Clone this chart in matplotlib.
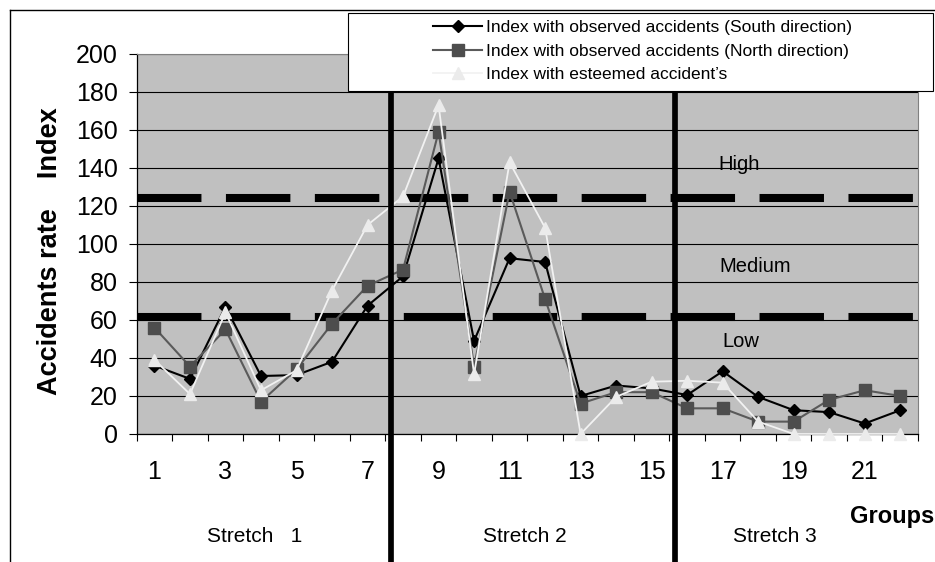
import numpy as np
import matplotlib.pyplot as plt
from matplotlib.lines import Line2D
from matplotlib.patches import Rectangle

plt.rcParams['font.family'] = ['Liberation Sans', 'DejaVu Sans']

# accident index per road group
groups = list(range(1, 23))
south = [36, 29, 67, 30.5, 31, 38, 67.5, 83, 145, 49, 92.5, 90.5,
         20, 25.5, 24, 20.5, 33, 19.5, 12.5, 11.5, 5.5, 12.5]
north = [56, 35.5, 55, 17, 34, 58, 78, 86.5, 159, 35.5, 127.5, 71,
         16, 22, 22, 13.5, 13.5, 6.5, 6.5, 18, 23, 20]
esteemed = [39, 21, 64, 23, 33.5, 75.5, 110, 125, 173, 31.5, 143, 108.5,
            0, 19.5, 27.5, 28, 27, 6.5, 0, 0, 0, 0]

series_labels = ["Index with observed accidents (South direction)",
                 "Index with observed accidents (North direction)",
                 "Index with esteemed accident\u2019s"]

# risk thresholds and stretch boundaries
thresholds = [124, 61.5]
stretch_bounds = [7.65, 15.65]
stretch_names = ["Stretch   1", "Stretch 2", "Stretch 3"]
stretch_centers = [3.83, 11.44, 18.48]
level_names = ["High", "Medium", "Low"]
level_pos = [(17.45, 142), (17.92, 88), (17.5, 48.5)]

fig = plt.figure(figsize=(9.35, 5.62), dpi=100)
ax = fig.add_axes([0.1462, 0.2278, 0.8356, 0.6762])
ax.set_facecolor('#C0C0C0')

ax.set_xlim(0.5, 22.5)
ax.set_ylim(0, 200)

# y axis
ax.set_yticks(np.arange(0, 201, 20))
ax.tick_params(axis='y', direction='out', length=5.8, width=0.8, pad=8,
               labelsize=18)
ax.yaxis.grid(True, color='black', lw=0.8)
ax.set_axisbelow(True)

# x axis: ticks on category borders, labels on odd groups
ax.set_xticks(np.arange(0.5, 23, 1))
ax.set_xticklabels([])
ax.tick_params(axis='x', which='major', direction='out', length=5, width=0.8)
ax.set_xticks(groups[::2], minor=True)
ax.set_xticklabels([str(g) for g in groups[::2]], minor=True)
ax.tick_params(axis='x', which='minor', length=0, pad=18.5, labelsize=18)

for s in ['top', 'right']:
    ax.spines[s].set_color('#808080')
for s in ['left', 'bottom']:
    ax.spines[s].set_color('black')
    ax.spines[s].set_linewidth(0.9)

# threshold dashes
for th in thresholds:
    ax.axhline(th, color='black', lw=5.8, dashes=(8.0, 3.04),
               solid_capstyle='butt', dash_capstyle='butt', zorder=1.5)

ax.plot(groups, south, color='black', lw=1.5, marker='D', ms=6,
        mfc='black', mec='black', zorder=3, clip_on=False,
        label=series_labels[0])
ax.plot(groups, north, color='#5A5A5A', lw=1.5, marker='s', ms=8.5,
        mfc='#4D4D4D', mec='#4D4D4D', zorder=3, clip_on=False,
        label=series_labels[1])
ax.plot(groups, esteemed, color='#F2F2F2', lw=1.3, marker='^', ms=8.5,
        mfc='#EBEBEB', mec='#EBEBEB', zorder=3, clip_on=False,
        label=series_labels[2])

# stretch separators reaching down through the labels
trans = ax.get_xaxis_transform()
for xb in stretch_bounds:
    ax.plot([xb, xb], [1.0, -0.45], color='black', lw=4.1,
            transform=trans, clip_on=False, zorder=4,
            solid_capstyle='butt')

for name, (lx, ly) in zip(level_names, level_pos):
    ax.text(lx, ly, name, fontsize=14.5, ha='center', va='center')

for name, cx in zip(stretch_names, stretch_centers):
    ax.text(cx, -0.27, name, transform=trans, fontsize=15,
            ha='center', va='center')

fig.text(934 / 935, 1 - 516 / 562, "Groups", fontsize=17,
         fontweight='bold', ha='right', va='center')

fig.text(50 / 935, 1 - 251 / 562, "Accidents rate    Index", rotation=90,
         fontsize=19.5, fontweight='bold', ha='center', va='center')

# outer chart frame (left and top)
fig.add_artist(Line2D([10 / 935, 10 / 935], [1 - 10 / 562, 0],
                      color='black', lw=1))
fig.add_artist(Line2D([10 / 935, 1], [1 - 10 / 562, 1 - 10 / 562],
                      color='black', lw=1))

# legend box
fig.add_artist(Rectangle((348 / 935, 1 - 90.5 / 562), (933 - 348) / 935,
                         77.5 / 562, facecolor='white', edgecolor='black',
                         lw=0.8, zorder=5))
handles, labels = ax.get_legend_handles_labels()
leg = fig.legend(handles, labels, loc='upper left',
                 bbox_to_anchor=(433 / 935, 1 - 20 / 562),
                 frameon=False, fontsize=12.5, handlelength=2.85,
                 handletextpad=0.2, labelspacing=0.48, borderpad=0,
                 borderaxespad=0)
leg.set_zorder(6)

fig.savefig('out.png', dpi=100)
